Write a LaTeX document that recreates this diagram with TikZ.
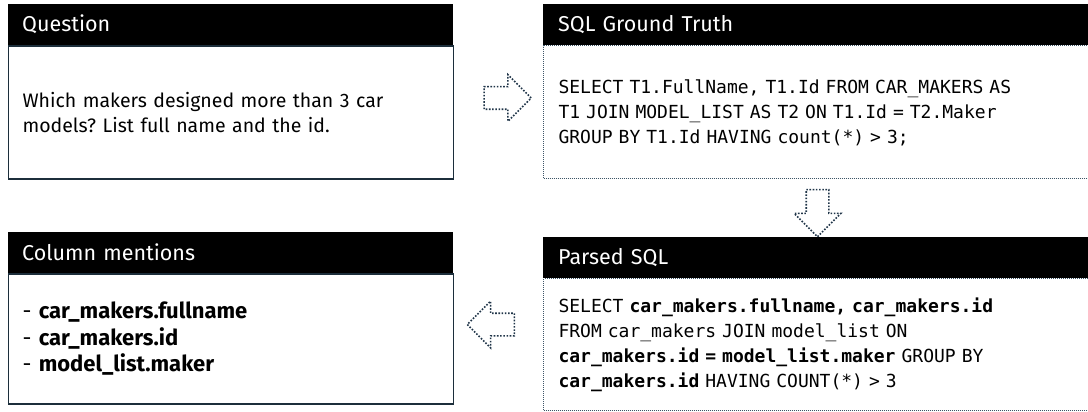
\documentclass[tikz,border=0pt]{standalone}
\usepackage{fontspec}
\setmainfont{Fira Sans}
\setmonofont{DejaVu Sans Mono}
\usetikzlibrary{positioning,shapes.arrows}

\definecolor{framecol}{HTML}{1C2E3B}
\definecolor{dotcol}{HTML}{3E5567}
\definecolor{arrowcol}{HTML}{1F3448}

\newcommand{\headfont}{\fontsize{21.5}{24}\selectfont}
\newcommand{\bodyfont}{\fontsize{19.5}{25}\selectfont\frenchspacing}
\newcommand{\listfont}{\fontsize{22}{26.5}\selectfont}
\newcommand{\codefont}{\ttfamily\fontsize{18}{25}\selectfont}

\tikzset{
    lefthead/.style={fill=black,text=white,anchor=north west,minimum height=41pt,
        text width=417pt,inner xsep=14pt,inner ysep=0pt,align=left,font=\headfont},
    righthead/.style={lefthead,text width=520pt,inner xsep=15pt},
    leftbody/.style={draw=framecol,line width=1.2pt,anchor=north west,
        text width=417pt,inner xsep=14pt,align=left,font=\bodyfont},
    rightbody/.style={draw=dotcol,line width=1pt,dash pattern=on 1pt off 1pt,
        anchor=north west,text width=520pt,inner xsep=15pt,align=left,font=\codefont},
    blockarrow/.style={single arrow,draw=arrowcol,line width=1.6pt,
        dash pattern=on 1.6pt off 1.6pt,inner sep=10.5pt,
        single arrow head extend=12pt,minimum height=47pt},
}

\begin{document}
\begin{tikzpicture}[x=1pt,y=-1pt]
    \clip (0,0) rectangle (1088,412);

    % question
    \node[lefthead] (qhead) at (8,4) {Question};
    \node[leftbody,minimum height=133pt] (qbody) at (qhead.south west)
        {Which makers designed more than 3 car\\models? List full name and the id.};

    % ground truth query
    \node[righthead] (gthead) at (543,4) {SQL Ground Truth};
    \node[rightbody,minimum height=133pt] (gtbody) at (gthead.south west)
        {SELECT T1.FullName, T1.Id FROM CAR\_MAKERS AS\\
         T1 JOIN MODEL\_LIST AS T2 ON T1.Id = T2.Maker\\
         GROUP BY T1.Id HAVING count(*) > 3;};

    % parsed query
    \node[righthead] (phead) at (543,237) {Parsed SQL};
    \node[rightbody,minimum height=132pt] (pbody) at (phead.south west)
        {SELECT \textbf{car\_makers.fullname, car\_makers.id}\\
         FROM car\_makers JOIN model\_list ON\\
         \textbf{car\_makers.id = model\_list.maker} GROUP BY\\
         \textbf{car\_makers.id} HAVING COUNT(*) > 3};

    % extracted columns
    \node[lefthead] (chead) at (8,232) {Column mentions};
    \node[leftbody,minimum height=130pt,font=\listfont] (cbody) at (chead.south west)
        {- \textbf{car\_makers.fullname}\\
         - \textbf{car\_makers.id}\\
         - \textbf{model\_list.maker}};

    % block arrows
    \node[blockarrow] (toGT) at (502,98) {};
    \node[blockarrow,shape border rotate=270] (toParsed) at (817.5,207.5) {};
    \node[blockarrow,shape border rotate=180] (toCols) at (496.5,324.5) {};
\end{tikzpicture}
\end{document}
